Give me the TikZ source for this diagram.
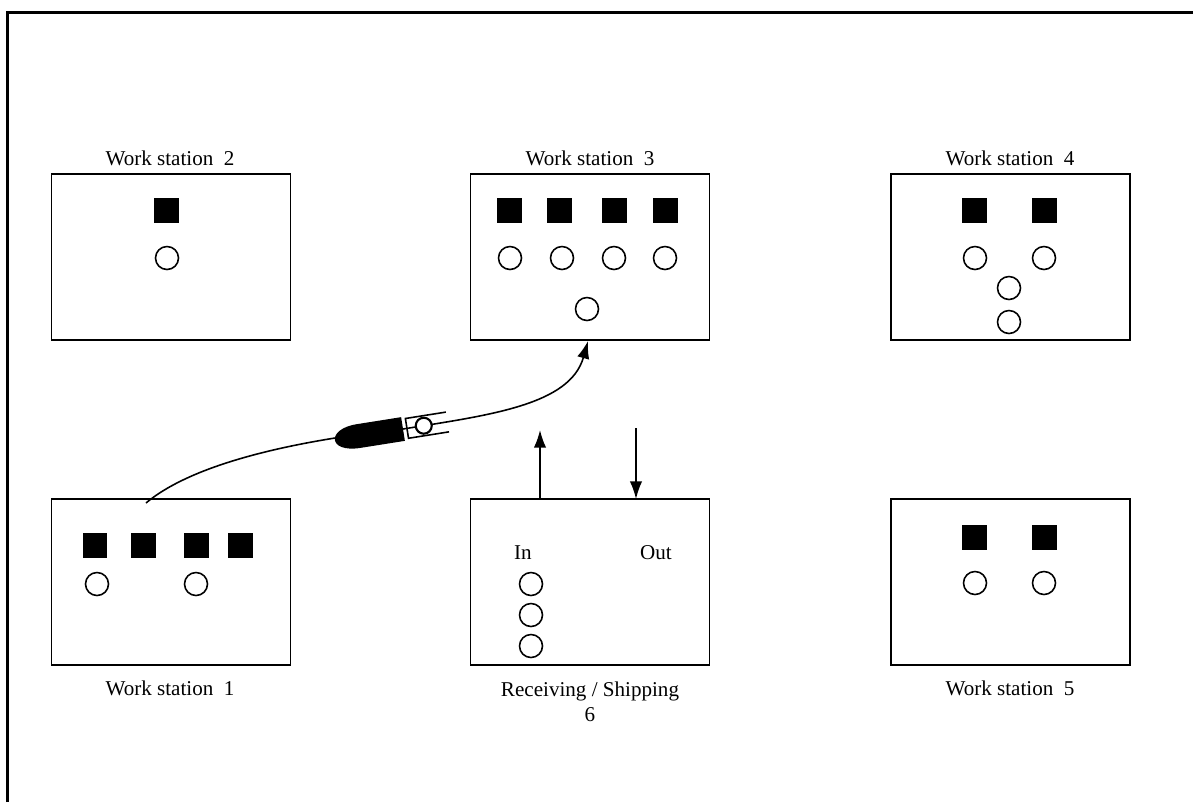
\documentclass[tikz,border=0pt]{standalone}
\usepackage{fontspec}
\setmainfont{Liberation Serif}
\usepackage{tikz}
\usetikzlibrary{arrows.meta,positioning,calc}

\begin{document}
\begin{tikzpicture}[
    x=0.02cm, y=-0.02cm,
    >={Latex[length=10pt,width=7pt]},
    every node/.style={font=\large},
    station/.style={draw,line width=0.9pt,minimum width=4.78cm,minimum height=3.32cm,inner sep=0pt,outer sep=0pt},
    machine/.style={fill=black,minimum size=0.5cm,inner sep=0pt},
    part/.style={circle,draw,line width=0.9pt,fill=white,minimum size=0.46cm,inner sep=0pt},
    flow/.style={->,line width=0.9pt}
  ]
  \useasboundingbox (0,0) rectangle (1193,802);
  %% Floor outline
  \draw[line width=1.7pt] (7.5,802) -- (7.5,12.5) -- (1193,12.5);

  %% Stations
  \node[station] (ws2) at (171,257) {};
  \node[station] (ws3) at (590,257) {};
  \node[station] (ws4) at (1010.5,257) {};
  \node[station] (ws1) at (171,582) {};
  \node[station] (rs6) at (590,582) {};
  \node[station] (ws5) at (1010.5,582) {};

  \node (ws2lbl) at (170,158) {Work station~~2};
  \node (ws3lbl) at (590,158) {Work station~~3};
  \node (ws4lbl) at (1010,158) {Work station~~4};
  \node (ws1lbl) at (170,688) {Work station~~1};
  \node[align=center,anchor=north] (rs6lbl) at (590,676) {Receiving / Shipping\\6};
  \node (ws5lbl) at (1010,688) {Work station~~5};

  %% Work station 2
  \node[machine] (m21) at (166.5,210.5) {};
  \node[part] (p21) at (167,258) {};

  %% Work station 3
  \foreach \i/\mx/\px in {1/509.5/510, 2/559.5/562, 3/614.5/614, 4/665.5/665} {
    \node[machine] (m3\i) at (\mx,210.5) {};
    \node[part] (p3\i) at (\px,258) {};
  }
  \node[part] (p35) at (587,309) {};

  %% Work station 4
  \node[machine] (m41) at (974.5,210.5) {};
  \node[machine] (m42) at (1044.5,210.5) {};
  \node[part] (p41) at (975,258) {};
  \node[part] (p42) at (1044,258) {};
  \node[part] (p43) at (1009,288) {};
  \node[part] (p44) at (1009,322) {};

  %% Work station 1
  \foreach \i/\mx in {1/95, 2/143.5, 3/196, 4/240.5} {
    \node[machine] (m1\i) at (\mx,545.5) {};
  }
  \node[part] (p11) at (97,584) {};
  \node[part] (p12) at (196,584) {};

  %% Work station 5
  \node[machine] (m51) at (974.5,537.5) {};
  \node[machine] (m52) at (1044.5,537.5) {};
  \node[part] (p51) at (975,583) {};
  \node[part] (p52) at (1044,583) {};

  %% Receiving / Shipping
  \node (inlbl) at (523,553) {In};
  \node (outlbl) at (656,553) {Out};
  \node[part] (p61) at (531,584) {};
  \node[part] (p62) at (531,615) {};
  \node[part] (p63) at (531,646) {};

  \coordinate (intip) at (540,430);
  \coordinate (outtail) at (636,428);
  \draw[flow] (intip |- rs6.north) -- (intip);
  \draw[flow] (outtail) -- (outtail |- rs6.north);

  %% Vehicle route from station 1 to station 3
  \coordinate (routestart) at (146,503);
  \coordinate (vehicle) at (403,429);
  \coordinate (routeend) at (588,341);
  \draw[flow] (routestart) .. controls (195,462) and (300,440) .. (vehicle)
    .. controls (490,415) and (570,405) .. (routeend);

  %% Vehicle with fork and load
  \begin{scope}[shift={(vehicle)},rotate=9]
    \fill (0,-12) -- (-45,-12) .. controls (-76,-12) and (-78,12) .. (-45,12) -- (0,12) -- cycle;
    \draw[line width=0.9pt] (45,-10) -- (4,-10) -- (4,10) -- (45,10);
    \node[circle,draw,line width=1.2pt,fill=white,minimum size=0.32cm,inner sep=0pt] (load) at (21,0) {};
  \end{scope}
\end{tikzpicture}
\end{document}
